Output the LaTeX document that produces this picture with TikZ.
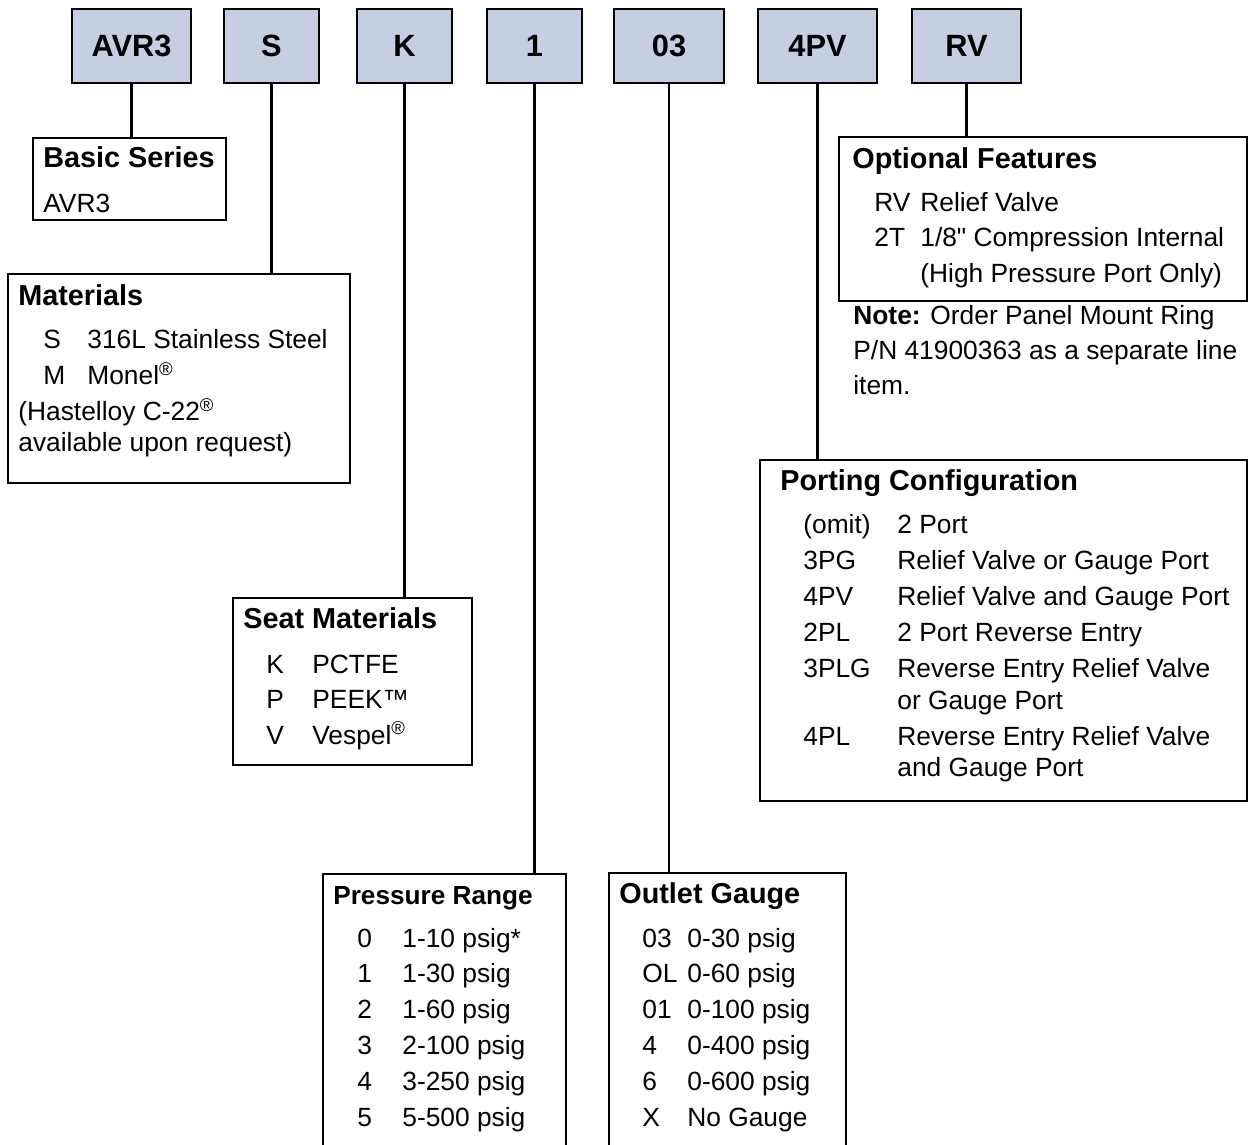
\documentclass[tikz,border=0pt]{standalone}
\usepackage{fontspec}
\setmainfont{Liberation Sans}[Ligatures=TeXOff]
\definecolor{codefill}{RGB}{198,206,226}
\tikzset{
  codebox/.style={draw, line width=1.4pt, fill=codefill, minimum height=1.48cm, inner sep=0pt,
    font=\fontsize{17.5}{20}\selectfont\bfseries},
  descbox/.style={draw, line width=1.4pt, anchor=north west, inner sep=0pt},
  link/.style={line width=1.25pt},
  head/.style={anchor=base west, inner sep=0pt, font=\fontsize{16.4}{19}\selectfont\bfseries},
  txt/.style={anchor=base west, inner sep=0pt, font=\fontsize{15}{18}\selectfont},
}
\begin{document}
\begin{tikzpicture}[x=0.02cm, y=-0.02cm]
	\useasboundingbox (0,0) rectangle (1248,1145);

	% ordering code
	\node[codebox, minimum width=2.38cm] (avr) at (131.5,46) {AVR3};
	\node[codebox, minimum width=1.9cm] (mat) at (271.5,46) {S};
	\node[codebox, minimum width=1.9cm] (seat) at (404.5,46) {K};
	\node[codebox, minimum width=1.9cm] (range) at (534.5,46) {1};
	\node[codebox, minimum width=2.2cm] (gauge) at (669,46) {03};
	\node[codebox, minimum width=2.38cm] (port) at (817.5,46) {4PV};
	\node[codebox, minimum width=2.18cm] (opt) at (966.5,46) {RV};

	% boxes below
	\node[descbox, minimum width=3.86cm, minimum height=1.64cm] (basicbox) at (32,137) {};
	\node[descbox, minimum width=6.84cm, minimum height=4.18cm] (matbox) at (7,273) {};
	\node[descbox, minimum width=4.78cm, minimum height=3.34cm] (seatbox) at (232,597) {};
	\node[descbox, minimum width=4.86cm, minimum height=5.8cm] (rangebox) at (322,873) {};
	\node[descbox, minimum width=4.74cm, minimum height=5.8cm] (gaugebox) at (608,872) {};
	\node[descbox, minimum width=9.74cm, minimum height=6.82cm] (portbox) at (759,459) {};
	\node[descbox, minimum width=8.16cm, minimum height=3.28cm] (optbox) at (838,136) {};

	\draw[link] (avr.south) -- (avr.south |- basicbox.north);
	\draw[link] (mat.south) -- (mat.south |- matbox.north);
	\draw[link] (seat.south) -- (seat.south |- seatbox.north);
	\draw[link] (range.south) -- (range.south |- rangebox.north);
	\draw[link] (gauge.south) -- (gauge.south |- gaugebox.north);
	\draw[link] (port.south) -- (port.south |- portbox.north);
	\draw[link] (opt.south) -- (opt.south |- optbox.north);

	% Basic Series
	\node[head] (basichd) at (43,168) {Basic Series};
	\node[txt] (basictx) at (43,213) {AVR3};

	% Materials
	\node[head] (mathd) at (18,306) {Materials};
	\foreach \c/\d/\y [count=\i] in {S/316L Stainless Steel/349, M/Monel\textsuperscript{®}/385}{
		\node[txt] (matc\i) at (43,\y) {\c};
		\node[txt] (matd\i) at (87,\y) {\d};
	}
	\node[txt] (matn1) at (18,421) {(Hastelloy C-22\textsuperscript{®}};
	\node[txt] (matn2) at (18,452) {available upon request)};

	% Seat Materials
	\node[head] (seathd) at (243,628) {Seat Materials};
	\foreach \c/\d/\y [count=\i] in {K/PCTFE/673, P/PEEK™/708, V/Vespel\textsuperscript{®}/744}{
		\node[txt] (seatc\i) at (266,\y) {\c};
		\node[txt] (seatd\i) at (312,\y) {\d};
	}

	% Pressure Range
	\node[head, font=\fontsize{14.9}{17}\selectfont\bfseries] (rangehd) at (333,904) {Pressure Range};
	\foreach \c/\d/\y [count=\i] in {0/1-10 psig*/947, 1/1-30 psig/982, 2/1-60 psig/1018,
	  3/2-100 psig/1054, 4/3-250 psig/1090, 5/5-500 psig/1126}{
		\node[txt] (rangec\i) at (357,\y) {\c};
		\node[txt] (ranged\i) at (402,\y) {\d};
	}

	% Outlet Gauge
	\node[head] (gaugehd) at (619,903) {Outlet Gauge};
	\foreach \c/\d/\y [count=\i] in {03/0-30 psig/947, OL/0-60 psig/982, 01/0-100 psig/1018,
	  4/0-400 psig/1054, 6/0-600 psig/1090, X/No Gauge/1126}{
		\node[txt] (gaugec\i) at (642,\y) {\c};
		\node[txt] (gauged\i) at (687,\y) {\d};
	}

	% Porting Configuration
	\node[head] (porthd) at (780,491) {Porting Configuration};
	\foreach \c/\d/\y [count=\i] in {(omit)/2 Port/534, 3PG/Relief Valve or Gauge Port/569,
	  4PV/Relief Valve and Gauge Port/605, 2PL/2 Port Reverse Entry/641,
	  3PLG/Reverse Entry Relief Valve/677, 4PL/Reverse Entry Relief Valve/745}{
		\node[txt] (portc\i) at (803,\y) {\c};
		\node[txt] (portd\i) at (897,\y) {\d};
	}
	\node[txt] (portm1) at (897,709) {or Gauge Port};
	\node[txt] (portm2) at (897,776) {and Gauge Port};

	% Optional Features
	\node[head] (opthd) at (852,169) {Optional Features};
	\node[txt] (optc1) at (874,212) {RV};
	\node[txt] (optd1) at (920,212) {Relief Valve};
	\node[txt] (optc2) at (874,247) {2T};
	\node[txt] (optd2) at (920,247) {1/8" Compression Internal};
	\node[txt] (optm2) at (920,283) {(High Pressure Port Only)};

	% note
	\node[txt] (note1) at (853,325) {\textbf{Note:} Order Panel Mount Ring};
	\node[txt] (note2) at (853,360) {P/N 41900363 as a separate line};
	\node[txt] (note3) at (853,395) {item.};
\end{tikzpicture}
\end{document}
